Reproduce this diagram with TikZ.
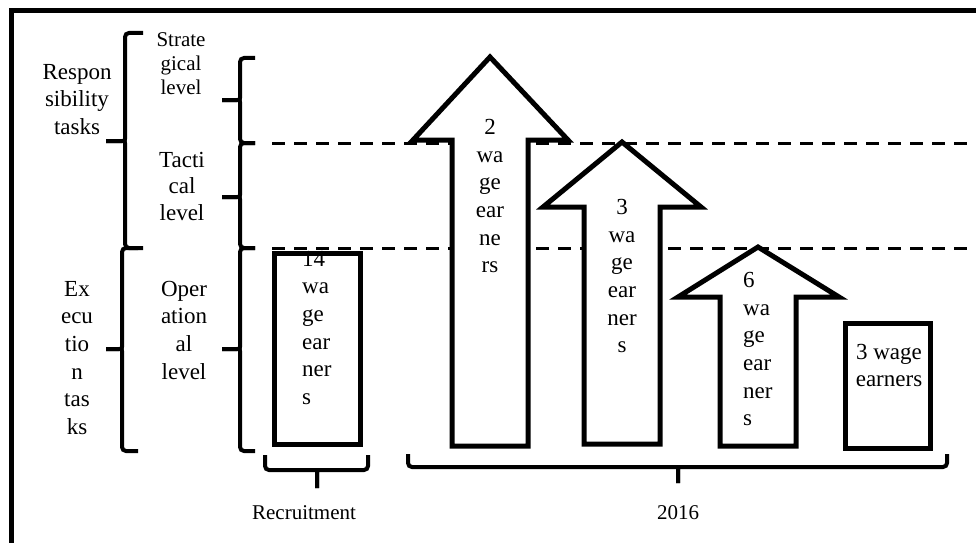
\documentclass[tikz,border=0pt]{standalone}
\usepackage{fontspec}
\setmainfont{Liberation Serif}
% #1 x of vertical, #2 top y, #3 tip y, #4 bottom y, #5 tip x, #6 hook x
\newcommand{\LeftBrk}[6]{%
  \draw[brk] (#6,#2) -- (#1,#2) -- (#1,#3-6) .. controls (#1,#3) .. (#1-7,#3) -- (#5,#3);
  \draw[brk] (#5,#3) -- (#1-7,#3) .. controls (#1,#3) .. (#1,#3+6) -- (#1,#4) -- (#6,#4);}
% #1 left x, #2 right x, #3 top y, #4 line y, #5 tip x, #6 tip bottom y
\newcommand{\DownBrk}[6]{%
  \draw[brk] (#1,#3) -- (#1,#4) -- (#5-6,#4) .. controls (#5,#4) .. (#5,#4+6) -- (#5,#6);
  \draw[brk] (#5,#6) -- (#5,#4+6) .. controls (#5,#4) .. (#5+6,#4) -- (#2,#4) -- (#2,#3);}
\begin{document}
\begin{tikzpicture}[x=1pt,y=-1pt,
  brk/.style={line width=4pt, rounded corners=4pt},
  dashline/.style={line width=3pt, dash pattern=on 13pt off 9pt},
  shp/.style={draw, line width=5pt, fill=white, line join=miter},
  txt/.style={inner sep=0pt, anchor=north, align=center, font=\fontsize{23}{27.6}\selectfont},
  txtl/.style={inner sep=0pt, anchor=north west, align=left, font=\fontsize{23}{27.6}\selectfont},
  lbl/.style={inner sep=0pt, anchor=base, font=\fontsize{21}{24}\selectfont}]
\useasboundingbox (0,0) rectangle (976,543);
% frame
\draw[line width=5pt] (976,11) -- (11,11) -- (11,543);
% dashed level lines
\draw[dashline] (272,143) -- (976,143);
\draw[dashline] (272,248) -- (976,248);
% brackets
\LeftBrk{125}{33}{141}{248}{106}{143}
\LeftBrk{122}{248}{349}{451}{106}{138}
\LeftBrk{240}{58}{100}{143}{222}{255}
\LeftBrk{240}{143}{197}{248}{222}{255}
\LeftBrk{240}{248}{349}{451}{222}{255}
% level texts
\node[txt] (resp) at (77,59) {\rule{0pt}{20pt}Respon\\sibility\\tasks};
\node[txt] (exec) at (77,276) {\rule{0pt}{20pt}Ex\\ecu\\tio\\n\\tas\\ks};
\node[txt, font=\fontsize{21}{24}\selectfont] (strat) at (181,26.5) {\rule{0pt}{20pt}Strate\\gical\\level};
\node[txt, font=\fontsize{23}{26.5}\selectfont] (tact) at (182,147) {\rule{0pt}{20pt}Tacti\\cal\\level};
\node[txt] (oper) at (184,276) {\rule{0pt}{20pt}Oper\\ation\\al\\level};
% recruitment box
\fill[white] (274,253) rectangle (360,444);
\node[txtl] (rectext) at (302,246) {\rule{0pt}{20pt}14\\wa\\ge\\ear\\ner\\s};
\draw[line width=5pt] (274,253) rectangle (360,444);
% arrows
\draw[shp] (452,446) -- (452,140) -- (413,140) -- (490,57) -- (568,140) -- (528,140) -- (528,446) -- cycle;
\node[txt] (a1) at (490,114.5) {\rule{0pt}{20pt}2\\wa\\ge\\ear\\ne\\rs};
\draw[shp] (584,444) -- (584,207) -- (543,207) -- (622,142) -- (701,207) -- (660,207) -- (660,444) -- cycle;
\node[txt] (a2) at (622,194.5) {\rule{0pt}{20pt}3\\wa\\ge\\ear\\ner\\s};
\draw[shp] (720,446) -- (720,297) -- (678,297) -- (758,247) -- (839,297) -- (796,297) -- (796,446) -- cycle;
\node[txtl] (a3) at (743,267.5) {\rule{0pt}{20pt}6\\wa\\ge\\ear\\ner\\s};
\draw[shp] (845,323) rectangle (930,448);
\node[txt] (b4) at (889,339) {\rule{0pt}{20pt}3 wage\\earners};
% bottom braces
\DownBrk{265}{368}{455}{470}{317}{488}
\DownBrk{408}{947}{454}{467}{678}{483}
\node[lbl] (recruit) at (304,519) {Recruitment};
\node[lbl] (year) at (678,519) {2016};
\end{tikzpicture}
\end{document}
